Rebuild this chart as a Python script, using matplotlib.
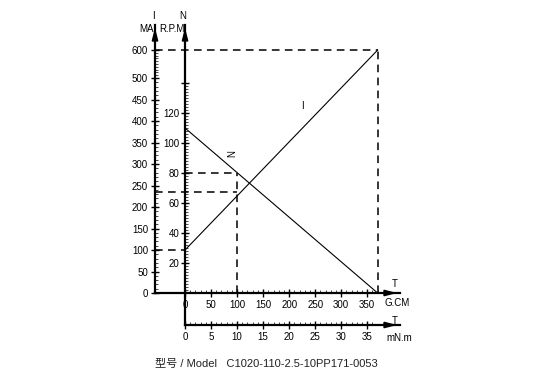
import numpy as np
import matplotlib
matplotlib.use("Agg")
from matplotlib import pyplot as plt
from matplotlib.ticker import FixedLocator, FixedFormatter

plt.rcParams['font.family'] = ['Liberation Sans', 'DejaVu Sans']

# motor characteristic
torque_gcm = [0, 370]
speed_rpm = [110, 0]
current_ma = [100, 600]

rated_torque = 100
rated_speed = 80
rated_current = 235

i_ticks = [0, 50, 100, 150, 200, 250, 300, 350, 400, 450, 500, 600]
n_ticks = [20, 40, 60, 80, 100, 120, 140]
n_labels = ['20', '40', '60', '80', '100', '120', '']
t_ticks = [0, 50, 100, 150, 200, 250, 300, 350]
tm_ticks = [0, 5, 10, 15, 20, 25, 30, 35]

W, H = 548, 387


def fx(px):
    return px / W


def fy(px):
    return 1 - px / H


# current axis is squeezed above 500 mA, like the drawing
def i_fwd(v):
    v = np.asarray(v, dtype=float)
    return np.where(v <= 500, v, 500 + (v - 500) * 0.65)


def i_inv(v):
    v = np.asarray(v, dtype=float)
    return np.where(v <= 500, v, 500 + (v - 500) / 0.65)


fig = plt.figure(figsize=(W / 100, H / 100), dpi=100)
ax = fig.add_axes([fx(155), fy(325), 245 / W, 300 / H])
ax.patch.set_visible(False)
xmin, xmax = -57.7, 413
ax.set_xlim(xmin, xmax)
ax.set_ylim(-21.33, 178.67)

for s in ['top', 'right']:
    ax.spines[s].set_visible(False)
ax.spines['left'].set_position(('data', 0))
ax.spines['bottom'].set_position(('data', 0))
ax.spines['left'].set_linewidth(1.6)
ax.spines['bottom'].set_linewidth(1.6)

ax.xaxis.set_major_locator(FixedLocator(t_ticks))
ax.xaxis.set_minor_locator(FixedLocator(np.arange(0, 371, 10)))
ax.yaxis.set_major_locator(FixedLocator(n_ticks))
ax.yaxis.set_major_formatter(FixedFormatter(n_labels))
ax.yaxis.set_minor_locator(FixedLocator(np.arange(0, 141, 2)))
ax.tick_params(which='major', direction='inout', length=6, width=1, labelsize=7, pad=2)
ax.tick_params(which='minor', direction='in', length=2, width=0.5)
ax.tick_params(axis='y', which='major', pad=1)

# second torque scale in mN.m
sec = ax.secondary_xaxis('bottom', functions=(lambda x: x / 10, lambda x: x * 10))
sec.spines['bottom'].set_linewidth(1.6)
sec.spines['bottom'].set_bounds(0, xmax / 10)
sec.xaxis.set_major_locator(FixedLocator(tm_ticks))
sec.xaxis.set_minor_locator(FixedLocator(np.arange(0, 37, 1)))
sec.tick_params(which='major', direction='inout', length=6, width=1, labelsize=7, pad=2)
sec.tick_params(which='minor', direction='in', length=2, width=0.5)

# current axis
ax2 = ax.twinx()
ax2.set_yscale('function', functions=(i_fwd, i_inv))
ax2.set_ylim(-74.4, 689.7)
for s in ['top', 'right', 'bottom']:
    ax2.spines[s].set_visible(False)
ax2.spines['left'].set_visible(True)
ax2.spines['left'].set_linewidth(1.6)
ax2.spines['left'].set_bounds(0, 689.7)
ax2.yaxis.set_ticks_position('left')
ax2.yaxis.set_label_position('left')
ax2.yaxis.set_major_locator(FixedLocator(i_ticks))
ax2.yaxis.set_major_formatter(FixedFormatter([str(t) for t in i_ticks]))
ax2.yaxis.set_minor_locator(FixedLocator(np.arange(0, 601, 10)))
ax2.tick_params(which='major', direction='inout', length=6, width=1, labelsize=7, pad=2)
ax2.tick_params(which='minor', direction='in', length=2, width=0.5)

# curves
ax.plot(torque_gcm, speed_rpm, color='black', lw=0.8)
ax2.plot(torque_gcm, current_ma, color='black', lw=0.8)

dash = dict(color='black', lw=1.1, ls=(0, (5, 3.5)))
ax2.plot([xmin, torque_gcm[1]], [current_ma[1], current_ma[1]], **dash)
ax2.plot([torque_gcm[1], torque_gcm[1]], [0, current_ma[1]], **dash)
ax2.plot([xmin, 0], [current_ma[0], current_ma[0]], **dash)
ax2.plot([xmin, rated_torque], [rated_current, rated_current], **dash)
ax.plot([0, rated_torque], [rated_speed, rated_speed], **dash)
ax.plot([rated_torque, rated_torque], [0, rated_speed], **dash)

# axis arrows
arr = dict(arrowstyle='-|>,head_length=0.7,head_width=0.18', color='black', lw=1.2)
ax.annotate('', xy=(0, 1), xycoords='axes fraction', xytext=(0, 0.95), arrowprops=arr)
ax.annotate('', xy=(0, 1), xycoords=ax.get_xaxis_transform(), xytext=(0, 0.95), arrowprops=arr)
ax.annotate('', xy=(1, 0), xycoords=ax.get_yaxis_transform(), xytext=(0.95, 0), arrowprops=arr)
ax.annotate('', xy=(1, 0), xycoords='axes fraction', xytext=(0.95, 0), arrowprops=arr)

# axis names
fs = 7
fig.text(fx(153), fy(16), 'I', ha='center', va='center', fontsize=fs)
fig.text(fx(146), fy(29), 'MA', ha='center', va='center', fontsize=fs)
fig.text(fx(183), fy(16), 'N', ha='center', va='center', fontsize=fs)
fig.text(fx(172), fy(29), 'R.P.M', ha='center', va='center', fontsize=fs)
fig.text(fx(395), fy(284), 'T', ha='center', va='center', fontsize=fs)
fig.text(fx(397), fy(303), 'G.CM', ha='center', va='center', fontsize=fs)
fig.text(fx(395), fy(321), 'T', ha='center', va='center', fontsize=fs)
fig.text(fx(399), fy(338), 'mN.m', ha='center', va='center', fontsize=fs)

# curve names
ax2.text(225, 435, 'I', ha='center', va='center', fontsize=fs)
ax.text(90, 93, 'N', ha='center', va='center', fontsize=fs, rotation=90)

fig.text(fx(155), fy(364), '型号 / Model   C1020-110-2.5-10PP171-0053',
         ha='left', va='center', fontsize=8, color='#222222',
         family=['Liberation Sans', 'Noto Sans CJK SC'])

fig.savefig('out.png', dpi=100)
